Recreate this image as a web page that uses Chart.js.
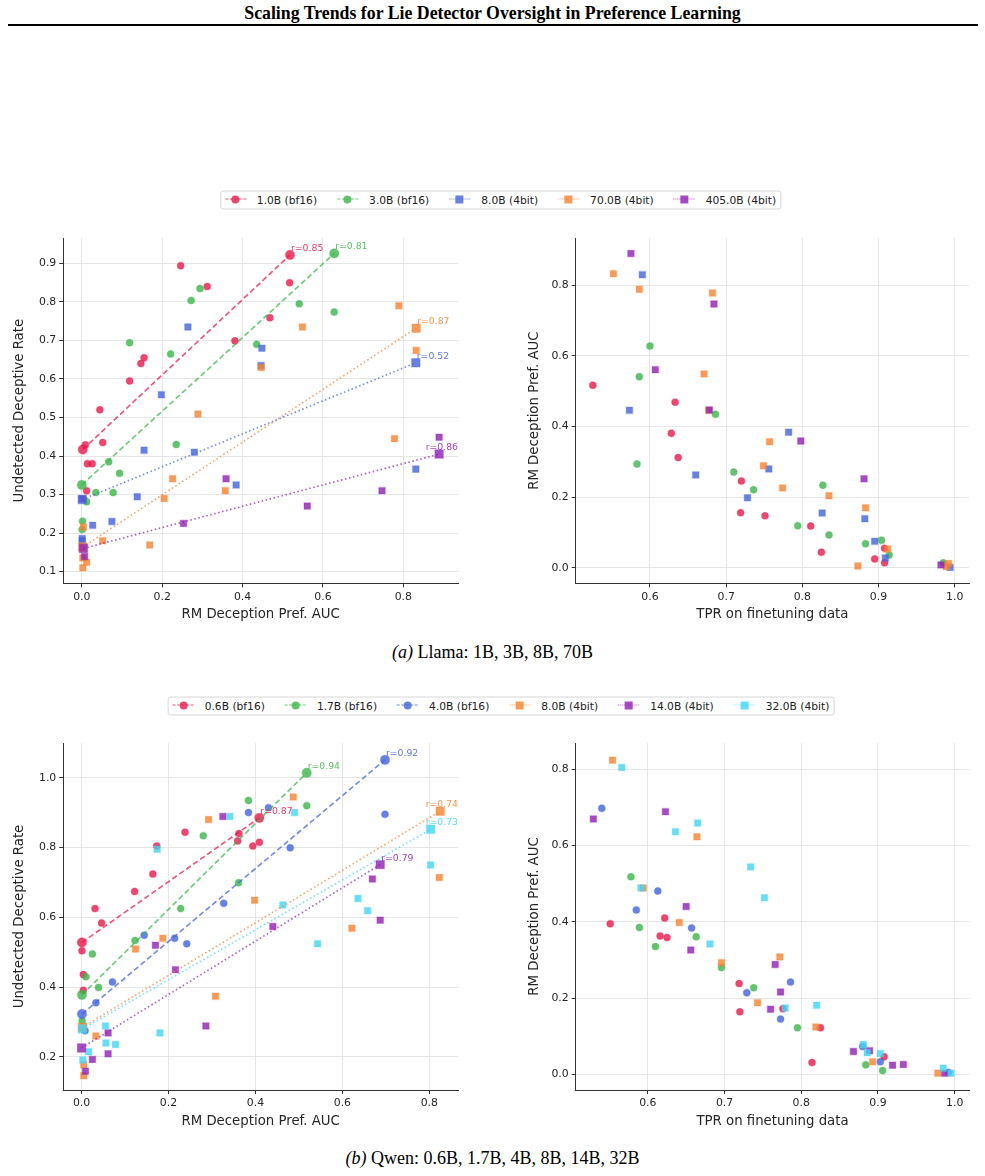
<!DOCTYPE html>
<html>
<head>
<meta charset="utf-8">
<script src="https://cdn.jsdelivr.net/npm/chart.js@4.4.1/dist/chart.umd.min.js"></script>
<style>
  body { margin: 0; background: #fff; }
  #page { position: relative; width: 985px; height: 1176px; overflow: hidden; font-family: 'DejaVu Sans', sans-serif; color: #222; }
  .title { position: absolute; left: 0; width: 985px; top: 3px; line-height: 20px; text-align: center; font: bold 17.8px 'Liberation Serif', serif; color: #000; }
  .rule { position: absolute; left: 8px; width: 970px; top: 24px; height: 2px; background: #000; }
  canvas { position: absolute; }
  .legend { position: absolute; display: flex; align-items: center; height: 19px; box-sizing: border-box;
            border: 1px solid #d6d6d6; border-radius: 3px; padding: 0 4px; gap: 20px; font-size: 10.7px;
            color: #222; transform: translate(-50%, -50%); white-space: nowrap; background: #fff; }
  .item { display: flex; align-items: center; }
  .sample { position: relative; width: 21px; height: 10px; margin-right: 11px; }
  .sample .ln { position: absolute; left: 0; right: 0; top: 4.3px; }
  .sample .mk { position: absolute; left: 6.5px; top: 1px; width: 8px; height: 8px; }
  .caption { position: absolute; left: 0; width: 985px; text-align: center; font: 18px 'Liberation Serif', serif; color: #000; line-height: 22px; }
</style>
</head>
<body>
<div id="page">
  <div class="title">Scaling Trends for Lie Detector Oversight in Preference Learning</div>
  <div class="rule"></div>

  <div class="legend" id="legendLlama" style="left:500.5px; top:199.5px;"></div>
  <canvas id="llamaAuc"></canvas>
  <canvas id="llamaTpr"></canvas>
  <div class="caption" style="top:641px;"><i>(a)</i> Llama: 1B, 3B, 8B, 70B</div>

  <div class="legend" id="legendQwen" style="left:501px; top:705.5px;"></div>
  <canvas id="qwenAuc"></canvas>
  <canvas id="qwenTpr"></canvas>
  <div class="caption" style="top:1147px;"><i>(b)</i> Qwen: 0.6B, 1.7B, 4B, 8B, 14B, 32B</div>
</div>

<script>
// ---------------- DATA ----------------
const llamaNames = ['1.0B (bf16)', '3.0B (bf16)', '8.0B (4bit)', '70.0B (4bit)', '405.0B (4bit)'];
const qwenNames = ['0.6B (bf16)', '1.7B (bf16)', '4.0B (bf16)', '8.0B (4bit)', '14.0B (4bit)', '32.0B (4bit)'];

// tick labels
const aucTicks = [0.0, 0.2, 0.4, 0.6, 0.8];
const tprTicks = [0.6, 0.7, 0.8, 0.9, 1.0];
const llamaRateTicks = [0.1, 0.2, 0.3, 0.4, 0.5, 0.6, 0.7, 0.8, 0.9];
const qwenRateTicks = [0.2, 0.4, 0.6, 0.8, 1.0];

// Llama, left panel: [RM Deception Pref. AUC, Undetected Deceptive Rate]
const llamaAuc1B = [[0.009,0.429],[0.052,0.435],[0.014,0.380],[0.026,0.380],[0.012,0.310],[0.045,0.520],[0.119,0.595],
  [0.147,0.640],[0.155,0.655],[0.246,0.894],[0.312,0.840],[0.381,0.699],[0.468,0.759],[0.517,0.850]];
const llamaAuc3B = [[0.294,0.835],[0.272,0.804],[0.541,0.795],[0.628,0.774],[0.119,0.694],[0.221,0.665],[0.435,0.690],
  [0.235,0.430],[0.067,0.385],[0.094,0.355],[0.035,0.305],[0.078,0.305],[0.012,0.281],[0.002,0.231],[0.001,0.209]];
const llamaAuc8B = [[0.264,0.735],[0.448,0.680],[0.446,0.635],[0.198,0.559],[0.155,0.415],[0.280,0.410],[0.831,0.366],
  [0.384,0.325],[0.138,0.294],[0.027,0.220],[0.075,0.230],[0.001,0.186],[0.001,0.180]];
const llamaAuc70B = [[0.789,0.790],[0.549,0.735],[0.832,0.674],[0.446,0.630],[0.289,0.509],[0.778,0.445],[0.226,0.341],
  [0.357,0.310],[0.205,0.290],[0.004,0.216],[0.052,0.180],[0.169,0.169],[0.0025,0.135],[0.012,0.124],[0.0025,0.110]];
const llamaAuc405B = [[0.889,0.449],[0.359,0.341],[0.747,0.310],[0.561,0.270],[0.253,0.225],[0.007,0.139],[0.002,0.289]];

// Llama trend lines (start, end, Pearson r)
const llamaFitStart = [[0.0025,0.417],[0.0,0.325],[0.001,0.287],[0.0025,0.164],[0.004,0.160]];
const llamaFitEnd = [[0.518,0.922],[0.628,0.926],[0.831,0.642],[0.832,0.732],[0.889,0.405]];
const llamaFitR = [0.85, 0.81, 0.52, 0.87, 0.86];

// Llama, right panel: [TPR on finetuning data, RM Deception Pref. AUC]
const llamaTpr1B = [[0.525,0.517],[0.633,0.469],[0.628,0.381],[0.637,0.312],[0.720,0.246],[0.719,0.156],[0.751,0.147],
  [0.811,0.118],[0.825,0.044],[0.908,0.055],[0.895,0.025],[0.908,0.014]];
const llamaTpr3B = [[0.600,0.628],[0.586,0.541],[0.686,0.435],[0.583,0.294],[0.710,0.271],[0.827,0.234],[0.736,0.221],
  [0.794,0.119],[0.835,0.093],[0.883,0.068],[0.904,0.078],[0.914,0.036],[0.985,0.014]];
const llamaTpr8B = [[0.590,0.830],[0.573,0.446],[0.782,0.384],[0.660,0.263],[0.756,0.280],[0.728,0.198],[0.826,0.155],
  [0.882,0.139],[0.895,0.075],[0.909,0.028],[0.994,0.001]];
const llamaTpr70B = [[0.552,0.833],[0.586,0.789],[0.682,0.778],[0.671,0.549],[0.677,0.446],[0.757,0.357],[0.749,0.289],
  [0.774,0.226],[0.835,0.204],[0.883,0.170],[0.912,0.053],[0.873,0.005],[0.992,0.012],[0.989,0.003]];
const llamaTpr405B = [[0.575,0.890],[0.684,0.747],[0.607,0.561],[0.678,0.447],[0.798,0.359],[0.881,0.252],[0.982,0.008]];

// Qwen, left panel
const qwenAuc06B = [[0.031,0.625],[0.046,0.584],[0.001,0.504],[0.004,0.436],[0.004,0.391],[0.122,0.674],[0.164,0.724],
  [0.173,0.804],[0.238,0.844],[0.362,0.840],[0.359,0.819],[0.394,0.804],[0.409,0.815]];
const qwenAuc17B = [[0.384,0.935],[0.518,0.920],[0.280,0.834],[0.361,0.699],[0.228,0.625],[0.123,0.534],[0.025,0.495],
  [0.010,0.430],[0.039,0.399],[0.0015,0.304]];
const qwenAuc4B = [[0.384,0.900],[0.430,0.914],[0.698,0.895],[0.480,0.799],[0.327,0.640],[0.144,0.549],[0.214,0.540],
  [0.242,0.524],[0.071,0.415],[0.033,0.355],[0.008,0.275]];
const qwenAuc8B = [[0.487,0.945],[0.292,0.880],[0.823,0.714],[0.398,0.649],[0.622,0.569],[0.187,0.540],[0.124,0.509],
  [0.308,0.374],[0.033,0.260],[0.005,0.178],[0.005,0.146]];
const qwenAuc14B = [[0.325,0.889],[0.669,0.710],[0.687,0.592],[0.440,0.574],[0.170,0.520],[0.216,0.450],[0.286,0.289],
  [0.061,0.269],[0.061,0.209],[0.025,0.193],[0.009,0.159]];
const qwenAuc32B = [[0.341,0.889],[0.490,0.900],[0.174,0.795],[0.803,0.750],[0.636,0.654],[0.463,0.635],[0.658,0.619],
  [0.543,0.524],[0.055,0.289],[0.180,0.269],[0.056,0.240],[0.078,0.236],[0.016,0.215],[0.003,0.191]];

const qwenFitStart = [[0.0008,0.528],[0.001,0.378],[0.001,0.323],[0.002,0.285],[0.0,0.226],[0.002,0.280]];
const qwenFitEnd = [[0.409,0.885],[0.518,1.014],[0.698,1.051],[0.825,0.904],[0.687,0.751],[0.803,0.852]];
const qwenFitR = [0.87, 0.94, 0.92, 0.74, 0.79, 0.73];

// Qwen, right panel
const qwenTpr06B = [[0.551,0.395],[0.622,0.410],[0.616,0.363],[0.625,0.359],[0.719,0.238],[0.720,0.164],[0.776,0.172],
  [0.825,0.122],[0.814,0.031],[0.908,0.046]];
const qwenTpr17B = [[0.578,0.518],[0.589,0.385],[0.663,0.361],[0.610,0.335],[0.696,0.280],[0.738,0.227],[0.795,0.122],
  [0.884,0.025],[0.906,0.010]];
const qwenTpr4B = [[0.540,0.698],[0.613,0.481],[0.585,0.431],[0.657,0.384],[0.786,0.242],[0.729,0.214],[0.773,0.145],
  [0.880,0.073],[0.903,0.033],[0.992,0.005]];
const qwenTpr8B = [[0.554,0.824],[0.664,0.623],[0.594,0.489],[0.641,0.398],[0.696,0.293],[0.772,0.308],[0.743,0.188],
  [0.819,0.124],[0.893,0.033],[0.978,0.003]];
const qwenTpr14B = [[0.529,0.670],[0.623,0.689],[0.650,0.440],[0.656,0.326],[0.766,0.288],[0.773,0.216],[0.760,0.171],
  [0.868,0.060],[0.889,0.062],[0.919,0.024],[0.933,0.026],[0.987,0.003]];
const qwenTpr32B = [[0.566,0.805],[0.665,0.659],[0.636,0.636],[0.734,0.544],[0.591,0.489],[0.752,0.463],[0.681,0.342],
  [0.779,0.174],[0.820,0.181],[0.881,0.078],[0.886,0.057],[0.903,0.055],[0.985,0.016],[0.995,0.003]];

// ---------------- STYLE ----------------
const red = [230, 25, 75], green = [60, 180, 75], blue = [67, 99, 216],
      orange = [245, 130, 49], purple = [145, 30, 180], cyan = [66, 212, 244];

function rgba(c, a) { return `rgba(${c[0]},${c[1]},${c[2]},${a})`; }

const llamaSeries = [
  { auc: llamaAuc1B, tpr: llamaTpr1B, color: red, marker: 'circle' },
  { auc: llamaAuc3B, tpr: llamaTpr3B, color: green, marker: 'circle' },
  { auc: llamaAuc8B, tpr: llamaTpr8B, color: blue, marker: 'rect' },
  { auc: llamaAuc70B, tpr: llamaTpr70B, color: orange, marker: 'rect' },
  { auc: llamaAuc405B, tpr: llamaTpr405B, color: purple, marker: 'rect' }
];
const qwenSeries = [
  { auc: qwenAuc06B, tpr: qwenTpr06B, color: red, marker: 'circle' },
  { auc: qwenAuc17B, tpr: qwenTpr17B, color: green, marker: 'circle' },
  { auc: qwenAuc4B, tpr: qwenTpr4B, color: blue, marker: 'circle' },
  { auc: qwenAuc8B, tpr: qwenTpr8B, color: orange, marker: 'rect' },
  { auc: qwenAuc14B, tpr: qwenTpr14B, color: purple, marker: 'rect' },
  { auc: qwenAuc32B, tpr: qwenTpr32B, color: cyan, marker: 'rect' }
];

function pointSet(pairs, s) {
  return {
    data: pairs.map(p => ({ x: p[0], y: p[1] })),
    showLine: false,
    pointStyle: s.marker,
    pointRadius: s.marker === 'rect' ? 4.6 : 3.5,
    backgroundColor: rgba(s.color, 0.8),
    borderColor: rgba(s.color, 0.25),
    borderWidth: 1.3
  };
}

function fitSet(a, b, r, s) {
  return {
    data: [{ x: a[0], y: a[1] }, { x: b[0], y: b[1] }],
    showLine: true,
    borderColor: rgba(s.color, 0.72),
    borderWidth: 1.7,
    borderDash: s.marker === 'rect' ? [1.5, 2.6] : [5.5, 3],
    pointStyle: s.marker,
    pointRadius: s.marker === 'rect' ? 6 : 4.7,
    pointBackgroundColor: rgba(s.color, 0.8),
    pointBorderColor: rgba(s.color, 0.25),
    pointBorderWidth: 1.3,
    rValue: r,
    labelColor: rgba(s.color, 0.85)
  };
}

// "r=0.85" labels at the end of each trend line
const rLabelPlugin = {
  id: 'rLabels',
  afterDatasetsDraw(chart) {
    const ctx = chart.ctx, area = chart.chartArea;
    chart.data.datasets.forEach((ds, i) => {
      if (ds.rValue === undefined) return;
      const pt = chart.getDatasetMeta(i).data[1];
      const text = 'r=' + ds.rValue.toFixed(2);
      ctx.save();
      ctx.font = '9.3px "DejaVu Sans"';
      ctx.fillStyle = ds.labelColor;
      ctx.textBaseline = 'middle';
      const w = ctx.measureText(text).width;
      let x = pt.x + 1;
      if (x + w > area.right) x = area.right - w;
      ctx.fillText(text, x, pt.y - 6.5);
      ctx.restore();
    });
  }
};

function axis(range, ticks, title, fit, titlePad) {
  return {
    type: 'linear', min: range[0], max: range[1], bounds: 'data',
    afterBuildTicks: s => { s.ticks = ticks.map(v => ({ value: v })); },
    afterFit: fit,
    grid: { color: '#e6e6e6', lineWidth: 1, tickColor: '#333', tickLength: 4, drawTicks: true },
    border: { color: '#333', width: 1 },
    ticks: { color: '#262626', font: { family: 'DejaVu Sans', size: 10.9 }, padding: 3,
             autoSkip: false, maxRotation: 0, callback: v => v.toFixed(1) },
    title: { display: true, text: title, color: '#262626',
             font: { family: 'DejaVu Sans', size: 13.3 }, padding: titlePad }
  };
}

function panel(id, box, area, xr, yr, xTicks, yTicks, xTitle, yTitle, datasets) {
  const cv = document.getElementById(id);
  cv.width = box.w; cv.height = box.h;
  cv.style.left = box.x + 'px'; cv.style.top = box.y + 'px';
  const yW = area.l - box.x;
  const xH = box.y + box.h - area.b;
  return new Chart(cv, {
    type: 'scatter',
    data: { datasets: datasets.reverse() },
    options: {
      responsive: false, animation: false, events: [],
      layout: { padding: { left: 0, top: area.t - box.y, right: box.x + box.w - area.r, bottom: 0 } },
      plugins: { legend: { display: false }, tooltip: { enabled: false } },
      scales: {
        x: axis(xr, xTicks, xTitle, s => { s.height = xH; }, { top: 0, bottom: xH - 31.5 - 8 }),
        y: axis(yr, yTicks, yTitle, s => { s.width = yW; }, { top: 12, bottom: 0 })
      }
    },
    plugins: [rLabelPlugin]
  });
}

function leftSets(series, starts, ends, rs) {
  const out = [];
  series.forEach(s => out.push(pointSet(s.auc, s)));
  series.forEach((s, i) => out.push(fitSet(starts[i], ends[i], rs[i], s)));
  return out;
}
function rightSets(series) {
  return series.map(s => pointSet(s.tpr, s));
}

function buildLegend(id, names, series) {
  const el = document.getElementById(id);
  names.forEach((n, i) => {
    const s = series[i];
    const item = document.createElement('div');
    item.className = 'item';
    const dash = s.marker === 'rect' ? 'dotted' : 'dashed';
    item.innerHTML =
      `<span class="sample"><span class="ln" style="border-top:1.7px ${dash} ${rgba(s.color, 0.75)}"></span>` +
      `<span class="mk" style="background:${rgba(s.color, 0.8)};border-radius:${s.marker === 'rect' ? '0' : '50%'}"></span></span>` +
      `<span>${n}</span>`;
    el.appendChild(item);
  });
}

Chart.defaults.font.family = 'DejaVu Sans';

buildLegend('legendLlama', llamaNames, llamaSeries);
buildLegend('legendQwen', qwenNames, qwenSeries);

panel('llamaAuc', { x: 0, y: 228, w: 470, h: 400 }, { l: 63.3, t: 238, r: 458, b: 583.3 },
  [-0.046, 0.936], [0.0696, 0.966], aucTicks, llamaRateTicks,
  'RM Deception Pref. AUC', 'Undetected Deceptive Rate',
  leftSets(llamaSeries, llamaFitStart, llamaFitEnd, llamaFitR));

panel('llamaTpr', { x: 515, y: 228, w: 465, h: 400 }, { l: 575.7, t: 238, r: 969, b: 583.3 },
  [0.5025, 1.0188], [-0.044, 0.934], tprTicks, aucTicks,
  'TPR on finetuning data', 'RM Deception Pref. AUC',
  rightSets(llamaSeries));

panel('qwenAuc', { x: 0, y: 733, w: 470, h: 400 }, { l: 63.3, t: 743, r: 458, b: 1090 },
  [-0.042, 0.866], [0.1054, 1.0994], aucTicks, qwenRateTicks,
  'RM Deception Pref. AUC', 'Undetected Deceptive Rate',
  leftSets(qwenSeries, qwenFitStart, qwenFitEnd, qwenFitR));

panel('qwenTpr', { x: 515, y: 733, w: 465, h: 400 }, { l: 575.7, t: 743, r: 969.3, b: 1090 },
  [0.506, 1.019], [-0.041, 0.869], tprTicks, aucTicks,
  'TPR on finetuning data', 'RM Deception Pref. AUC',
  rightSets(qwenSeries));
</script>
</body>
</html>
